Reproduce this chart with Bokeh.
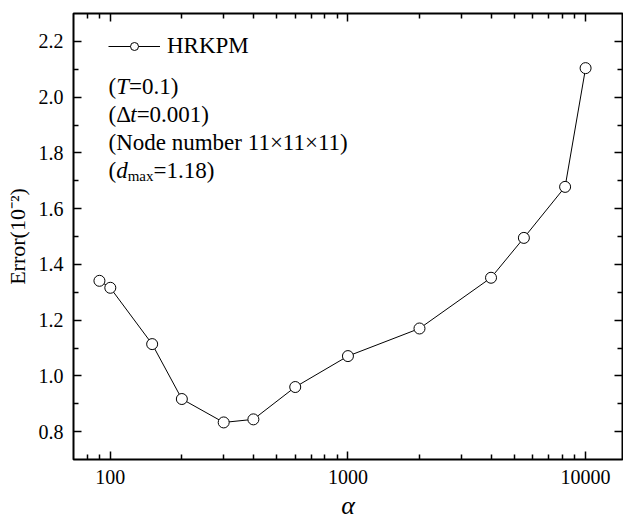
from bokeh.plotting import figure
from bokeh.models import (Range1d, FixedTicker, LogAxis, LinearAxis, Label,
                          NumeralTickFormatter, PrintfTickFormatter)
from bokeh.embed import file_html
from bokeh.resources import INLINE

# ---- data ----
alpha = [90, 100, 150, 200, 300, 400, 600, 1000, 2000, 4000, 5500, 8200, 10000]
error = [1.341, 1.316, 1.114, 0.917, 0.833, 0.844, 0.960, 1.071, 1.170, 1.352, 1.495, 1.678, 2.104]

x_major = [100, 1000, 10000]
x_minor = [80, 90, 200, 300, 400, 500, 600, 700, 800, 900,
           2000, 3000, 4000, 5000, 6000, 7000, 8000, 9000]
y_major = [0.8, 1.0, 1.2, 1.4, 1.6, 1.8, 2.0, 2.2]
y_minor = [0.9, 1.1, 1.3, 1.5, 1.7, 1.9, 2.1]

series_name = "HRKPM"
notes = [
    [("(", "normal"), ("T", "italic"), ("=0.1)", "normal")],
    [("(Δ", "normal"), ("t", "italic"), ("=0.001)", "normal")],
    [("(Node number 11×11×11)", "normal")],
    [("(", "normal"), ("d", "italic"), ("max", "sub"), ("=1.18)", "normal")],
]

FONT = "Liberation Serif"

# Times-compatible advance widths (per 1000 em)
W = {'(': 333, ')': 333, '=': 564, '.': 250, ' ': 250, 'N': 722, 'o': 500,
     'd': 500, 'e': 444, 'n': 500, 'u': 500, 'm': 778, 'b': 500, 'r': 333,
     '×': 564, 'Δ': 612, 'a': 444, 'x': 500, 'T': 556, 't': 278}
for c in "0123456789":
    W[c] = 500
ITALIC_W = {'T': 556, 't': 278, 'd': 500}


def text_width(s, size, italic=False):
    tbl = ITALIC_W if italic else W
    return sum(tbl.get(c, W.get(c, 500)) for c in s) * size / 1000.0


p = figure(width=623, height=522, x_axis_type="log",
           x_range=Range1d(70, 14300), y_range=Range1d(0.7, 2.3),
           output_backend="svg", toolbar_location=None,
           min_border_left=73, min_border_right=1, min_border_top=13,
           min_border_bottom=63)
p.grid.visible = False
p.outline_line_color = "black"
p.outline_line_width = 2
p.background_fill_color = "white"
p.border_fill_color = "white"

xt = FixedTicker(ticks=x_major, minor_ticks=x_minor)
yt = FixedTicker(ticks=y_major, minor_ticks=y_minor)


def style_axis(ax, show_labels):
    ax.axis_line_color = None
    ax.major_tick_in = 8
    ax.major_tick_out = 0
    ax.minor_tick_in = 5
    ax.minor_tick_out = 0
    ax.major_tick_line_width = 1.5
    ax.minor_tick_line_width = 1.5
    ax.major_tick_line_color = "black"
    ax.minor_tick_line_color = "black"
    ax.major_label_text_font = FONT
    ax.major_label_text_color = "black"
    ax.major_label_text_font_size = "20px"
    if not show_labels:
        ax.major_label_text_color = None
        ax.major_label_text_font_size = "1px"
        ax.major_label_standoff = 0


xa = p.xaxis[0]
xa.ticker = xt
xa.formatter = NumeralTickFormatter(format="0")
style_axis(xa, True)
xa.major_label_standoff = 10
xa.axis_label = "α"
xa.axis_label_text_font = FONT
xa.axis_label_text_font_style = "italic"
xa.axis_label_text_font_size = "26px"
xa.axis_label_standoff = 4
xa.axis_label_text_color = "black"

ya = p.yaxis[0]
ya.ticker = yt
ya.formatter = PrintfTickFormatter(format="%.1f")
style_axis(ya, True)
ya.major_label_standoff = 10
ya.axis_label = "Error(10⁻²)"
ya.axis_label_text_font = FONT
ya.axis_label_text_font_style = "normal"
ya.axis_label_text_font_size = "22px"
ya.axis_label_standoff = 6
ya.axis_label_text_color = "black"

top = LogAxis(ticker=xt, formatter=NumeralTickFormatter(format="0"))
style_axis(top, False)
p.add_layout(top, "above")
right = LinearAxis(ticker=yt, formatter=PrintfTickFormatter(format="%.1f"))
style_axis(right, False)
p.add_layout(right, "right")

p.line(alpha, error, line_color="black", line_width=1, legend_label=series_name)
p.scatter(alpha, error, marker="circle", size=11, fill_color="white",
          line_color="black", line_width=1, legend_label=series_name)

lg = p.legend[0]
lg.location = (35, 400)
lg.margin = 0
lg.padding = 0
lg.border_line_color = None
lg.background_fill_alpha = 0
lg.glyph_width = 52
lg.glyph_height = 20
lg.label_standoff = 7
lg.label_text_font = FONT
lg.label_text_font_size = "23px"
lg.label_text_color = "black"

# annotation lines (frame-relative screen units, y up from frame bottom)
FRAME_H = 446
SIZE = 23
SUB = 15
x0 = 35
base_top = [86, 113.5, 141.5, 169.5]
for line, bt in zip(notes, base_top):
    x = x0
    for txt, st in line:
        if st == "sub":
            sz, dy, fs = SUB, 6, "normal"
        else:
            sz, dy, fs = SIZE, 0, st
        p.add_layout(Label(x=x, y=FRAME_H - (bt - 13) - dy, x_units="screen",
                           y_units="screen", text=txt, text_font=FONT,
                           text_font_size=f"{sz}px", text_font_style=fs,
                           text_color="black", text_baseline="alphabetic",
                           text_align="left"))
        x += text_width(txt, sz, st == "italic")

open("out.html", "w").write(file_html(p, INLINE))
